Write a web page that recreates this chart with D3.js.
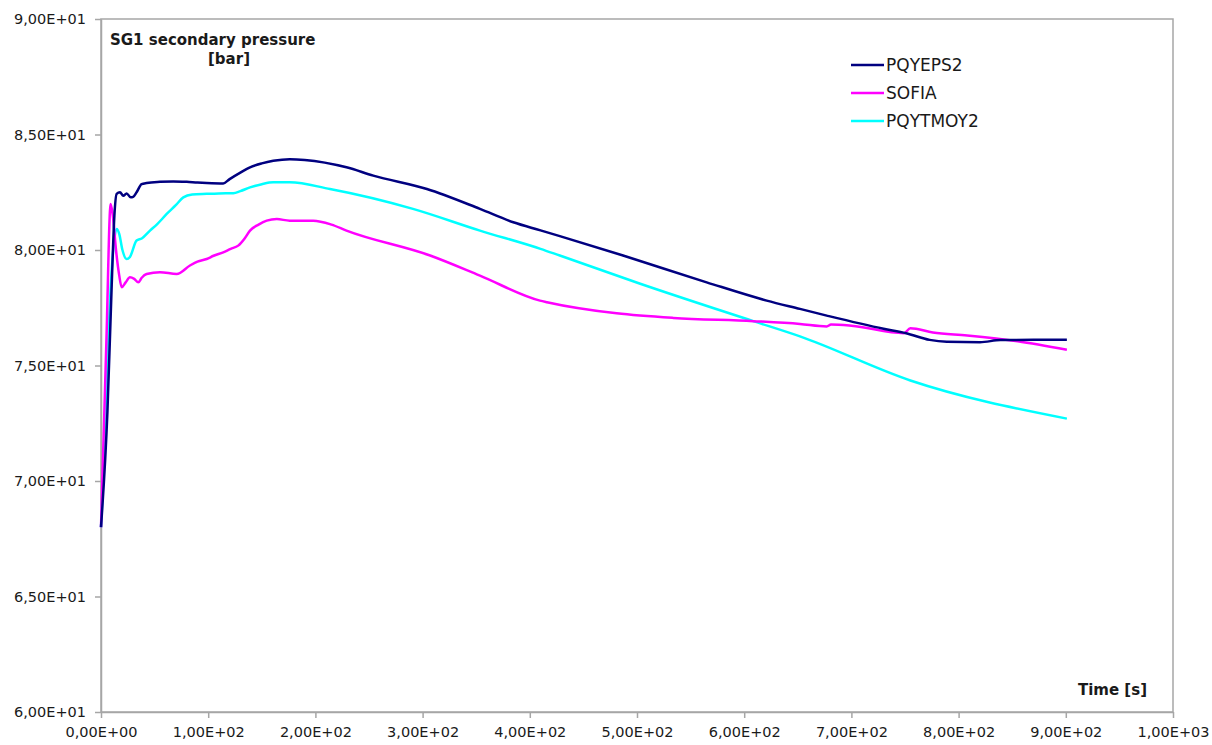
<!DOCTYPE html>
<html>
<head>
<meta charset="utf-8">
<script src="https://cdn.jsdelivr.net/npm/d3@7"></script>
<style>
  html, body { margin: 0; padding: 0; background: #fff; }
  svg { display: block; }
  text { font-family: "DejaVu Sans", sans-serif; fill: #1a1a1a; }
</style>
</head>
<body>
<svg id="chart" width="1212" height="745"></svg>
<script>
// ---- data ----
const seriesNames = ["PQYEPS2", "SOFIA", "PQYTMOY2"];
const seriesColors = ["#000080", "#ff00ff", "#00ffff"];

const pqyeps2T = [0, 6, 10, 12.5, 14.6, 17.7, 20.8, 23.9, 27.7, 30, 33.2, 37.9, 42.6, 55, 67.4, 80, 90, 98.6, 114, 120, 130, 139, 150, 160.7, 176, 190, 229, 254, 304, 353.5, 384.6, 410, 428, 487, 565, 621, 652, 677, 730, 751, 773, 789, 820, 839, 870, 901];
const pqyeps2V = [68, 73, 78.5, 81.5, 82.43, 82.5, 82.35, 82.45, 82.28, 82.3, 82.5, 82.85, 82.9, 82.95, 82.97, 82.95, 82.92, 82.9, 82.88, 83.07, 83.35, 83.58, 83.75, 83.86, 83.93, 83.9, 83.58, 83.22, 82.64, 81.78, 81.2, 80.85, 80.6, 79.76, 78.6, 77.81, 77.45, 77.16, 76.59, 76.4, 76.11, 76.03, 76.01, 76.1, 76.11, 76.11];

const sofiaT = [0, 5, 9, 11, 14, 17, 19.3, 23, 27, 31, 34.8, 38, 42.6, 55, 70.6, 83, 90, 98.6, 105, 114, 121, 128, 134, 139, 147, 154.6, 164, 176, 198, 215, 229, 307, 353.5, 409.5, 416, 481, 534, 608.5, 652, 677, 681, 700, 749, 755, 776, 808, 855, 901];
const sofiaV = [68, 76, 81.99, 81.5, 80, 78.9, 78.39, 78.6, 78.82, 78.75, 78.6, 78.8, 78.96, 79.04, 78.96, 79.33, 79.5, 79.61, 79.75, 79.9, 80.05, 80.19, 80.5, 80.84, 81.1, 81.27, 81.34, 81.27, 81.27, 81.1, 80.84, 79.76, 78.89, 77.81, 77.74, 77.26, 77.06, 76.92, 76.8, 76.69, 76.77, 76.72, 76.4, 76.61, 76.43, 76.3, 76.05, 75.68];

const pqytmoy2T = [0, 3, 8.4, 12, 14.6, 17, 20, 23.9, 27, 33.2, 38, 45.7, 52, 61.3, 70, 76.8, 85, 98.6, 110, 123.4, 130, 139, 150, 160.7, 176, 213.6, 291, 353.5, 410, 428, 503, 608.5, 652, 755, 901];
const pqytmoy2V = [68, 71, 77.8, 80.3, 80.91, 80.7, 80.0, 79.61, 79.7, 80.41, 80.5, 80.84, 81.1, 81.56, 81.95, 82.28, 82.4, 82.43, 82.45, 82.46, 82.55, 82.71, 82.85, 82.93, 82.93, 82.64, 81.78, 80.84, 80.05, 79.76, 78.54, 76.92, 76.26, 74.35, 72.7];

const xTicks = [0, 100, 200, 300, 400, 500, 600, 700, 800, 900, 1000];
const yTicks = [60, 65, 70, 75, 80, 85, 90];
const titleLines = ["SG1 secondary pressure", "[bar]"];
const xAxisTitle = "Time [s]";

// ---- layout ----
const svg = d3.select("#chart");
const plotLeft = 101, plotRight = 1173, plotTop = 19, plotBottom = 712;

const x = d3.scaleLinear().domain([0, 1000]).range([plotLeft, plotRight]);
const y = d3.scaleLinear().domain([60, 90]).range([plotBottom, plotTop]);

function fmt(v) {
  const s = v.toExponential(2); // e.g. 9.00e+1
  const [m, e] = s.split("e");
  const sign = e[0] === "-" ? "-" : "+";
  const ex = Math.abs(parseInt(e, 10)).toString().padStart(2, "0");
  return m.replace(".", ",") + "E" + sign + ex;
}

// frame
svg.append("rect")
  .attr("x", plotLeft).attr("y", plotTop)
  .attr("width", plotRight - plotLeft).attr("height", plotBottom - plotTop)
  .attr("fill", "none").attr("stroke", "#a6a6a6").attr("stroke-width", 1.5);

// axes
const yAxis = svg.append("g")
  .attr("transform", `translate(${plotLeft},0)`)
  .call(d3.axisLeft(y).tickValues(yTicks).tickFormat(fmt).tickSize(6).tickSizeOuter(0).tickPadding(9));
const xAxis = svg.append("g")
  .attr("transform", `translate(0,${plotBottom})`)
  .call(d3.axisBottom(x).tickValues(xTicks).tickFormat(fmt).tickSize(6).tickSizeOuter(0).tickPadding(9));

[yAxis, xAxis].forEach(g => {
  g.select(".domain").attr("stroke", "#a6a6a6").attr("stroke-width", 1.5);
  g.selectAll(".tick line").attr("stroke", "#a6a6a6").attr("stroke-width", 1.5);
  g.selectAll(".tick text")
    .style("font-family", "'DejaVu Sans', sans-serif")
    .style("font-size", "14.5px")
    .attr("fill", "#1a1a1a");
});

// lines
const seriesData = [
  pqyeps2T.map((t, i) => [t, pqyeps2V[i]]),
  sofiaT.map((t, i) => [t, sofiaV[i]]),
  pqytmoy2T.map((t, i) => [t, pqytmoy2V[i]])
];
const line = d3.line().x(d => x(d[0])).y(d => y(d[1])).curve(d3.curveMonotoneX);

const drawOrder = [2, 1, 0];
drawOrder.forEach(i => {
  svg.append("path")
    .datum(seriesData[i])
    .attr("d", line)
    .attr("fill", "none")
    .attr("stroke", seriesColors[i])
    .attr("stroke-width", 2.5)
    .attr("stroke-linejoin", "round");
});

// title
svg.append("text")
  .attr("x", 110).attr("y", 45)
  .style("font-size", "15px").style("font-weight", "bold")
  .text(titleLines[0]);
svg.append("text")
  .attr("x", 229).attr("y", 64)
  .attr("text-anchor", "middle")
  .style("font-size", "15px").style("font-weight", "bold")
  .text(titleLines[1]);

// x-axis title
svg.append("text")
  .attr("x", 1147).attr("y", 695)
  .attr("text-anchor", "end")
  .style("font-size", "15px").style("font-weight", "bold")
  .text(xAxisTitle);

// legend
const legend = svg.append("g");
seriesNames.forEach((name, i) => {
  const ly = 65 + i * 28;
  legend.append("line")
    .attr("x1", 851).attr("x2", 884)
    .attr("y1", ly).attr("y2", ly)
    .attr("stroke", seriesColors[i]).attr("stroke-width", 2.5);
  legend.append("text")
    .attr("x", 886).attr("y", ly + 6)
    .style("font-size", "17px")
    .text(name);
});
</script>
</body>
</html>
